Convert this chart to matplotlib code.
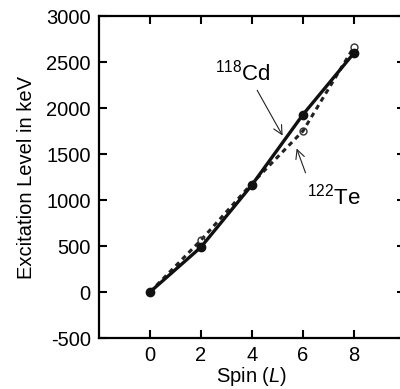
import numpy as np
import matplotlib.pyplot as plt

plt.rcParams['font.family'] = ['Liberation Sans', 'DejaVu Sans']
plt.rcParams['mathtext.fontset'] = 'custom'
plt.rcParams['mathtext.rm'] = 'Liberation Sans'
plt.rcParams['mathtext.it'] = 'Liberation Sans:italic'
plt.rcParams['axes.unicode_minus'] = False

# 自旋和激发能 (keV)
spin = [0, 2, 4, 6, 8]
cd118 = [0, 488, 1165, 1929, 2598]
te122 = [0, 564, 1181, 1751, 2665]

y_ticks = [-500, 0, 500, 1000, 1500, 2000, 2500, 3000]
x_ticks = [0, 2, 4, 6, 8]

fig = plt.figure(figsize=(4, 3.89), dpi=100)
# 右边框在图外，被裁掉
ax = fig.add_axes([99 / 400, 1 - 338 / 389, 306 / 400, 322 / 389])

ax.plot(spin, te122, color='#222222', lw=2.2, ls=(0, (1.6, 1.4)))
ax.plot([2, 6, 8], [te122[1], te122[3], te122[4]], 'o', mfc='none',
        mec='#333333', ms=5, mew=1)
ax.plot(spin, cd118, color='#111111', lw=2.4, marker='o', ms=6)

ax.annotate('$^{118}$Cd', xy=(5.2, 1700), xytext=(3.65, 2390),
            ha='center', va='center', fontsize=16,
            arrowprops=dict(arrowstyle='->', color='#222222', lw=0.8,
                            relpos=(0.7, 0), shrinkA=2, shrinkB=0))
ax.annotate('$^{122}$Te', xy=(5.75, 1560), xytext=(7.2, 1040),
            ha='center', va='center', fontsize=16,
            arrowprops=dict(arrowstyle='->', color='#222222', lw=0.8,
                            relpos=(0.05, 1), shrinkA=6, shrinkB=0))

ax.set_xlim(-2, 10)
ax.set_ylim(-500, 3000)
ax.set_xticks(x_ticks)
ax.set_yticks(y_ticks)
ax.tick_params(direction='in', length=6, width=1.5, labelsize=14.5, pad=6,
               top=True, right=True)
for s in ax.spines.values():
    s.set_linewidth(1.6)
ax.set_xlabel('Spin ($L$)', fontsize=14.5, labelpad=0)
ax.set_ylabel('Excitation Level in keV', fontsize=14.5, labelpad=7)

plt.savefig('out.png', dpi=100)
